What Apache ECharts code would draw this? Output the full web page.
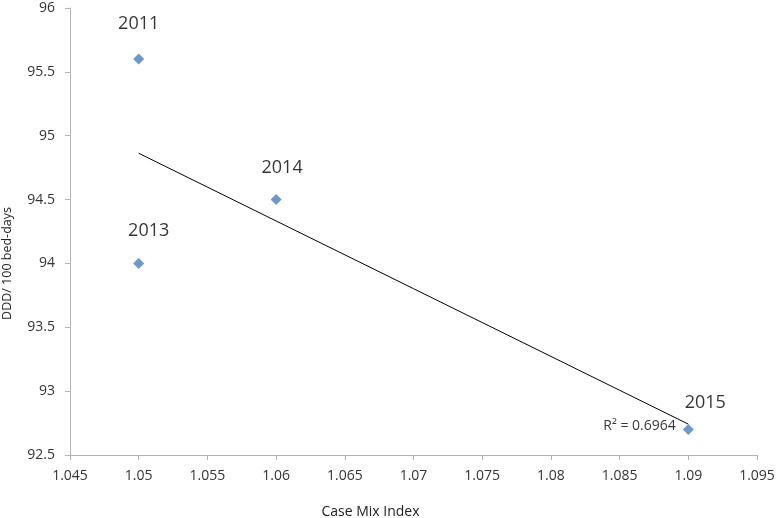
<!DOCTYPE html>
<html>
<head>
<meta charset="utf-8">
<script src="https://cdn.jsdelivr.net/npm/echarts@6/dist/echarts.min.js"></script>
<style>
  html, body { margin: 0; padding: 0; background: #fff; }
  #main { width: 776px; height: 518px; }
</style>
</head>
<body>
<div id="main"></div>
<script>
const years = ['2011', '2013', '2014', '2015'];
const cmi = [1.05, 1.05, 1.06, 1.09];
const ddd = [95.6, 94.0, 94.5, 92.7];
// manual label offsets (like in the source chart)
const labelOffsets = [[0, -10], [10, -7], [6, -6], [17, -1]];

// least squares trendline
function regression(xs, ys) {
    let n = xs.length;
    let mx = xs.reduce((a, b) => a + b, 0) / n;
    let my = ys.reduce((a, b) => a + b, 0) / n;
    let sxy = 0, sxx = 0, syy = 0;
    for (let i = 0; i < n; i++) {
        sxy += (xs[i] - mx) * (ys[i] - my);
        sxx += (xs[i] - mx) * (xs[i] - mx);
        syy += (ys[i] - my) * (ys[i] - my);
    }
    let slope = sxy / sxx;
    return { slope, intercept: my - slope * mx, r2: sxy * sxy / (sxx * syy) };
}

const fit = regression(cmi, ddd);
const xMin = Math.min(...cmi), xMax = Math.max(...cmi);
const trend = [
    [xMin, fit.intercept + fit.slope * xMin],
    [xMax, fit.intercept + fit.slope * xMax]
];

const chart = echarts.init(document.getElementById('main'));

const axisCommon = {
    axisLine: { show: true, lineStyle: { color: '#b3b3b3' } },
    axisTick: { show: true, inside: false, length: 5, lineStyle: { color: '#b3b3b3' } },
    splitLine: { show: false },
    axisLabel: { fontSize: 14, color: '#333', fontFamily: 'Open Sans' }
};

chart.setOption({
    animation: false,
    textStyle: { fontFamily: 'Open Sans' },
    grid: { left: 70, right: 19, top: 8, bottom: 63, outerBoundsMode: 'none', containLabel: false },
    xAxis: Object.assign({}, axisCommon, {
        type: 'value',
        min: 1.045,
        max: 1.095,
        interval: 0.005,
        name: 'Case Mix Index',
        nameLocation: 'middle',
        nameGap: 50,
        nameTextStyle: { fontSize: 14, color: '#222', padding: [0, 86, 0, 0] },
        axisLabel: Object.assign({}, axisCommon.axisLabel, {
            margin: 14,
            formatter: v => String(+v.toFixed(3))
        })
    }),
    yAxis: Object.assign({}, axisCommon, {
        type: 'value',
        min: 92.5,
        max: 96,
        interval: 0.5,
        name: 'DDD/ 100 bed-days',
        nameLocation: 'middle',
        nameGap: 56,
        nameTextStyle: { fontSize: 12.5, color: '#222', padding: [0, 64, 0, 0] },
        axisLabel: Object.assign({}, axisCommon.axisLabel, {
            margin: 15,
            formatter: v => String(+v.toFixed(1))
        })
    }),
    series: [
        {
            type: 'line',
            data: trend,
            symbol: 'none',
            silent: true,
            lineStyle: { color: '#000', width: 1 },
            z: 1
        },
        {
            // R² label at the end of the trendline
            type: 'scatter',
            silent: true,
            symbolSize: 1,
            itemStyle: { color: 'rgba(0,0,0,0)' },
            data: [{
                value: trend[1],
                label: {
                    show: true,
                    position: 'left',
                    distance: 12,
                    offset: [0, 2],
                    formatter: 'R² = ' + fit.r2.toFixed(4),
                    fontSize: 14,
                    color: '#000'
                }
            }],
            z: 3
        },
        {
            type: 'scatter',
            symbol: 'diamond',
            symbolSize: 11,
            itemStyle: { color: '#4a7ebb' },
            z: 2,
            data: cmi.map((x, i) => ({
                value: [x, ddd[i]],
                label: {
                    show: true,
                    position: 'top',
                    distance: 11,
                    offset: labelOffsets[i],
                    formatter: years[i],
                    fontSize: 18,
                    color: '#000'
                }
            }))
        }
    ]
});
</script>
</body>
</html>
